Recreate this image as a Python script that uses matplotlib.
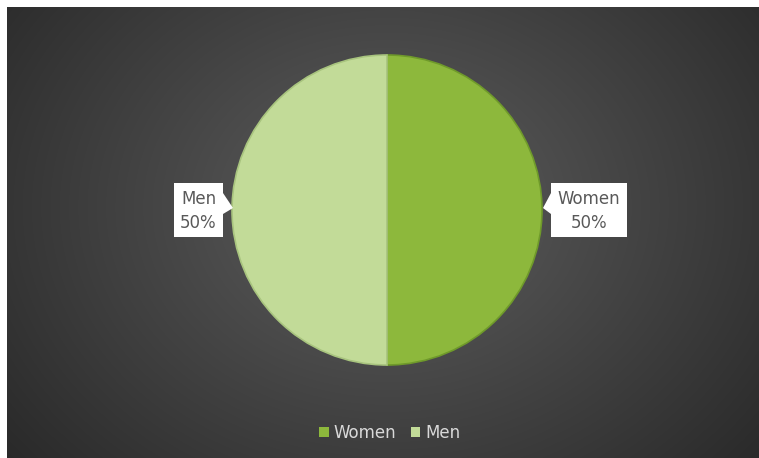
import numpy as np
import matplotlib.pyplot as plt
from matplotlib.patches import Patch, Rectangle, Polygon

labels = ["Women", "Men"]
shares = [50, 50]
colors = ["#8db83c", "#c2db98"]
edge_colors = ["#6f9a2a", "#a8c47e"]

W, H = 759, 458


def fx(x):
    return x / W


def fy(y):
    return 1 - y / H


def main():
    fig = plt.figure(figsize=(W / 100, H / 100), dpi=100, facecolor="white")

    # dark radial background
    bg = fig.add_axes([7 / W, 0, 1 - 7 / W, 1 - 7 / H])
    yy, xx = np.mgrid[0:451, 0:752]
    cx, cy = 380, 200
    r = np.sqrt(((xx - cx) / 520) ** 2 + ((yy - cy) / 420) ** 2)
    shade = np.clip(0.37 - 0.22 * r, 0.16, 0.37)
    img = np.dstack([shade, shade, shade])
    bg.imshow(img, aspect="auto", extent=[0, 1, 0, 1], origin="upper")
    bg.set_axis_off()

    # pie
    size = 310
    ax = fig.add_axes([fx(387 - size / 2), fy(210 + size / 2), size / W, size / H])
    wedges, _ = ax.pie(shares, colors=colors, startangle=90, counterclock=False,
                       wedgeprops=dict(linewidth=1.2))
    for w, ec in zip(wedges, edge_colors):
        w.set_edgecolor(ec)
    ax.set_aspect("equal")
    ax.set_xlim(-1, 1)
    ax.set_ylim(-1, 1)

    # callout boxes
    boxes = [(551, 627, 543), (174, 223, 233)]
    for (x0, x1, tip), lab, val in zip(boxes, labels, shares):
        fig.patches.append(Rectangle((fx(x0), fy(237)), (x1 - x0) / W, 54 / H,
                                     transform=fig.transFigure, facecolor="white", edgecolor="none"))
        edge = x0 if tip < x0 else x1
        fig.patches.append(Polygon([[fx(edge), fy(193)], [fx(edge), fy(214)], [fx(tip), fy(208)]],
                                   closed=True, transform=fig.transFigure,
                                   facecolor="white", edgecolor="none"))
        fig.text(fx((x0 + x1) / 2), fy(211), f"{lab}\n{val}%", ha="center", va="center",
                 fontsize=12, color="#595959", linespacing=1.45)

    handles = [Patch(facecolor=c, edgecolor="none") for c in colors]
    fig.legend(handles, labels, loc="center", bbox_to_anchor=(fx(390), fy(433)), ncol=2,
               frameon=False, fontsize=12, labelcolor="#d9d9d9", handlelength=0.55,
               handleheight=0.55, handletextpad=0.3, columnspacing=0.9)

    fig.savefig("out.png", dpi=100, facecolor="white")


if __name__ == "__main__":
    main()
